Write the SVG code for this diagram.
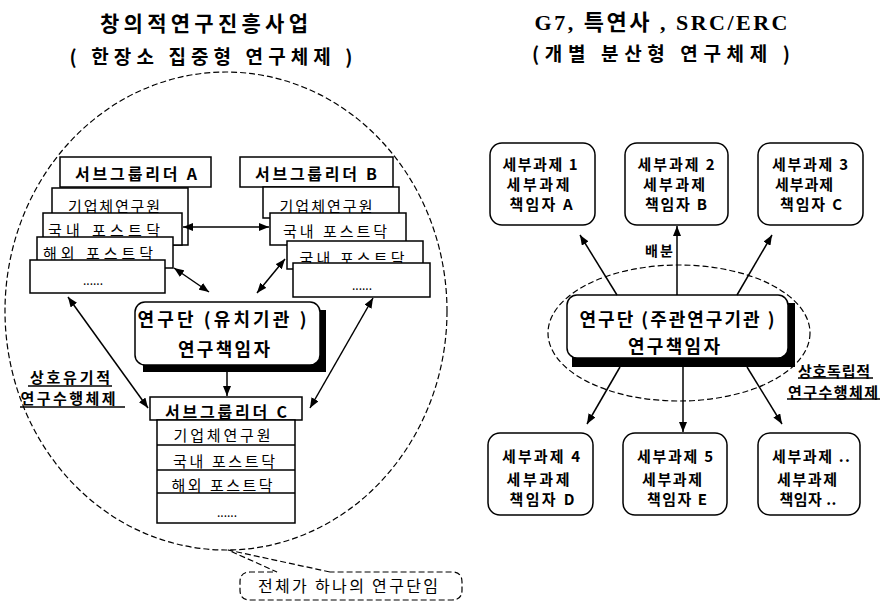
<svg xmlns="http://www.w3.org/2000/svg" width="888" height="605" viewBox="0 0 888 605">
<defs>
<style>
.t{font-family:"Noto Sans CJK KR","Noto Sans",sans-serif;dominant-baseline:central;text-anchor:middle;fill:#000}
.b{font-weight:700}
.ttl{font-family:"Liberation Serif","Noto Sans CJK KR",serif;font-weight:700}
.box{fill:#fff;stroke:#000;stroke-width:1.5}
.dash{fill:none;stroke:#000;stroke-width:1.2;stroke-dasharray:6 3}
.conn{stroke:#000;stroke-width:1.5;fill:none}
.ul{stroke:#000;stroke-width:1.5}
</style>
<marker id="ah" viewBox="0 0 10 8" refX="10" refY="4" markerWidth="10" markerHeight="8" markerUnits="userSpaceOnUse" orient="auto-start-reverse">
<path d="M0,0 L10,4 L0,8 z" fill="#000"/>
</marker>
</defs>
<rect width="888" height="605" fill="#fff"/>

<!-- titles -->
<g id="title-left">
<text class="t b" x="204" y="22" font-size="21" textLength="208" lengthAdjust="spacing">창의적연구진흥사업</text>
<text class="t b" x="211" y="55" font-size="19" textLength="283" lengthAdjust="spacing">( 한장소 집중형 연구체제 )</text>
</g>
<g id="title-right">
<text class="t ttl" x="661" y="22" font-size="22" textLength="253" lengthAdjust="spacing">G7, 특연사 , SRC/ERC</text>
<text class="t b" x="661" y="52" font-size="19" textLength="258" lengthAdjust="spacing">(개별 분산형 연구체제 )</text>
</g>

<!-- left big dashed ellipse -->
<g id="research-unit-boundary">
<ellipse class="dash" cx="226" cy="311" rx="221" ry="239"/>
</g>

<!-- group A -->
<g id="subgroup-a">
<rect class="box" x="60" y="157" width="151" height="30"/>
<text class="t b" x="136" y="173" font-size="16" textLength="122" lengthAdjust="spacing">서브그룹리더 A</text>
<rect class="box" x="52" y="188" width="136" height="57"/>
<text class="t" x="114" y="205" font-size="15" textLength="92" lengthAdjust="spacing">기업체연구원</text>
<rect class="box" x="43" y="213" width="139" height="32"/>
<text class="t" x="104" y="229" font-size="15" textLength="112" lengthAdjust="spacing">국내 포스트닥</text>
<rect class="box" x="37" y="237" width="136" height="31"/>
<text class="t" x="98" y="252" font-size="15" textLength="110" lengthAdjust="spacing">해외 포스트닥</text>
<rect class="box" x="30" y="260" width="135" height="33"/>
<text class="t" x="93" y="279" font-size="12">......</text>
</g>

<!-- group B -->
<g id="subgroup-b">
<rect class="box" x="240" y="157" width="153" height="30"/>
<text class="t b" x="316" y="173" font-size="16" textLength="122" lengthAdjust="spacing">서브그룹리더 B</text>
<rect class="box" x="263" y="187" width="136" height="31"/>
<text class="t" x="326" y="205" font-size="15" textLength="93" lengthAdjust="spacing">기업체연구원</text>
<rect class="box" x="270" y="213" width="136" height="32"/>
<text class="t" x="335" y="230" font-size="15" textLength="104" lengthAdjust="spacing">국내 포스트닥</text>
<rect class="box" x="287" y="241" width="136" height="28"/>
<text class="t" x="352" y="257" font-size="15" textLength="105" lengthAdjust="spacing">국내 포스트닥</text>
<rect class="box" x="293" y="263" width="137" height="34"/>
<text class="t" x="362" y="284" font-size="12">......</text>
</g>

<!-- center left -->
<g id="research-center-left">
<rect x="143" y="310" width="183" height="62" fill="#000"/>
<rect class="box" x="135" y="302" width="185" height="63" rx="10"/>
<text class="t b" x="222" y="318" font-size="18" textLength="169" lengthAdjust="spacing">연구단 (유치기관 )</text>
<text class="t b" x="224" y="348" font-size="18" textLength="92" lengthAdjust="spacing">연구책임자</text>
</g>

<!-- group C -->
<g id="subgroup-c">
<rect class="box" x="150" y="397" width="152" height="23"/>
<text class="t b" x="226" y="411" font-size="16" textLength="122" lengthAdjust="spacing">서브그룹리더 C</text>
<rect class="box" x="157" y="420" width="138" height="103"/>
<line class="ul" x1="157" y1="445" x2="295" y2="445"/>
<line class="ul" x1="157" y1="470" x2="295" y2="470"/>
<line class="ul" x1="157" y1="493" x2="295" y2="493"/>
<text class="t" x="222" y="434" font-size="15" textLength="97" lengthAdjust="spacing">기업체연구원</text>
<text class="t" x="224" y="460" font-size="15" textLength="102" lengthAdjust="spacing">국내 포스트닥</text>
<text class="t" x="222" y="484" font-size="15" textLength="101" lengthAdjust="spacing">해외 포스트닥</text>
<text class="t" x="227" y="511" font-size="12">......</text>
</g>

<!-- left label -->
<g id="label-organic">
<text class="t b" x="70" y="376" font-size="15" textLength="80" lengthAdjust="spacing">상호유기적</text>
<line class="ul" x1="28" y1="386" x2="112" y2="386"/>
<text class="t b" x="68" y="397" font-size="15" textLength="95" lengthAdjust="spacing">연구수행체제</text>
<line class="ul" x1="20" y1="407" x2="125" y2="407"/>
</g>

<!-- callout -->
<g id="callout">
<path class="dash" d="M330,572 L228,550 L277,572 L250,572 Q240,572 240,582 L240,590 Q240,600 250,600 L452,600 Q462,600 462,590 L462,582 Q462,572 452,572 Z" style="fill:#fff"/>
<text class="t" x="348" y="585" font-size="16" textLength="180" lengthAdjust="spacing">전체가 하나의 연구단임</text>
</g>

<!-- right side -->
<g id="independent-boundary">
<ellipse class="dash" cx="679" cy="333" rx="131" ry="68"/>
</g>

<g id="research-center-right">
<rect x="572" y="303" width="223" height="64" fill="#000"/>
<rect class="box" x="567" y="295" width="221" height="63" rx="10"/>
<text class="t b" x="677" y="318" font-size="18" textLength="195" lengthAdjust="spacing">연구단 (주관연구기관 )</text>
<text class="t b" x="674" y="345" font-size="18" textLength="92" lengthAdjust="spacing">연구책임자</text>
</g>

<g id="task-1">
<rect class="box" x="490" y="143" width="105" height="82" rx="12"/>
<text class="t b" x="540" y="163" font-size="15" textLength="75" lengthAdjust="spacing">세부과제 1</text>
<text class="t b" x="538" y="183" font-size="15" textLength="63" lengthAdjust="spacing">세부과제</text>
<text class="t b" x="541" y="203" font-size="15" textLength="63" lengthAdjust="spacing">책임자 A</text>
</g>
<g id="task-2">
<rect class="box" x="625" y="143" width="103" height="82" rx="12"/>
<text class="t b" x="676" y="163" font-size="15" textLength="77" lengthAdjust="spacing">세부과제 2</text>
<text class="t b" x="674" y="183" font-size="15" textLength="62" lengthAdjust="spacing">세부과제</text>
<text class="t b" x="676" y="203" font-size="15" textLength="62" lengthAdjust="spacing">책임자 B</text>
</g>
<g id="task-3">
<rect class="box" x="758" y="143" width="105" height="82" rx="12"/>
<text class="t b" x="810" y="163" font-size="15" textLength="76" lengthAdjust="spacing">세부과제 3</text>
<text class="t b" x="804" y="183" font-size="15" textLength="58" lengthAdjust="spacing">세부과제</text>
<text class="t b" x="811" y="203" font-size="15" textLength="62" lengthAdjust="spacing">책임자 C</text>
</g>
<g id="task-4">
<rect class="box" x="488" y="433" width="105" height="82" rx="12"/>
<text class="t b" x="541" y="455" font-size="15" textLength="78" lengthAdjust="spacing">세부과제 4</text>
<text class="t b" x="538" y="478" font-size="15" textLength="63" lengthAdjust="spacing">세부과제</text>
<text class="t b" x="542" y="498" font-size="15" textLength="65" lengthAdjust="spacing">책임자 D</text>
</g>
<g id="task-5">
<rect class="box" x="623" y="433" width="104" height="82" rx="12"/>
<text class="t b" x="675" y="455" font-size="15" textLength="76" lengthAdjust="spacing">세부과제 5</text>
<text class="t b" x="672" y="478" font-size="15" textLength="60" lengthAdjust="spacing">세부과제</text>
<text class="t b" x="677" y="498" font-size="15" textLength="60" lengthAdjust="spacing">책임자 E</text>
</g>
<g id="task-n">
<rect class="box" x="758" y="433" width="102" height="82" rx="12"/>
<text class="t b" x="811" y="455" font-size="15" textLength="78" lengthAdjust="spacing">세부과제 ..</text>
<text class="t b" x="807" y="478" font-size="15" textLength="60" lengthAdjust="spacing">세부과제</text>
<text class="t b" x="808" y="498" font-size="15" textLength="57" lengthAdjust="spacing">책임자 ..</text>
</g>

<g id="label-independent">
<text class="t b" x="834" y="370" font-size="15" textLength="72" lengthAdjust="spacing">상호독립적</text>
<line class="ul" x1="798" y1="378" x2="873" y2="378"/>
<text class="t b" x="833" y="391" font-size="15" textLength="90" lengthAdjust="spacing">연구수행체제</text>
<line class="ul" x1="787" y1="399" x2="880" y2="399"/>
</g>

<!-- connectors -->
<g id="connectors">
<line class="conn" x1="183" y1="227" x2="269" y2="227" marker-start="url(#ah)" marker-end="url(#ah)"/>
<line class="conn" x1="174" y1="268" x2="209" y2="292" marker-start="url(#ah)" marker-end="url(#ah)"/>
<line class="conn" x1="285" y1="259" x2="257" y2="293" marker-start="url(#ah)" marker-end="url(#ah)"/>
<line class="conn" x1="68" y1="297" x2="148" y2="408" marker-start="url(#ah)" marker-end="url(#ah)"/>
<line class="conn" x1="373" y1="298" x2="310" y2="408" marker-start="url(#ah)" marker-end="url(#ah)"/>
<line class="conn" x1="227" y1="372" x2="227" y2="396" marker-end="url(#ah)"/>

<line class="conn" x1="617" y1="295" x2="580" y2="235" marker-end="url(#ah)"/>
<line class="conn" x1="677" y1="295" x2="677" y2="226" marker-end="url(#ah)"/>
<line class="conn" x1="737" y1="295" x2="772" y2="235" marker-end="url(#ah)"/>
<line class="conn" x1="620" y1="367" x2="587" y2="424" marker-end="url(#ah)"/>
<line class="conn" x1="683" y1="367" x2="683" y2="432" marker-end="url(#ah)"/>
<line class="conn" x1="747" y1="367" x2="782" y2="424" marker-end="url(#ah)"/>
<text class="t b" x="659" y="250" font-size="14" textLength="28" lengthAdjust="spacing">배분</text>
</g>
</svg>
